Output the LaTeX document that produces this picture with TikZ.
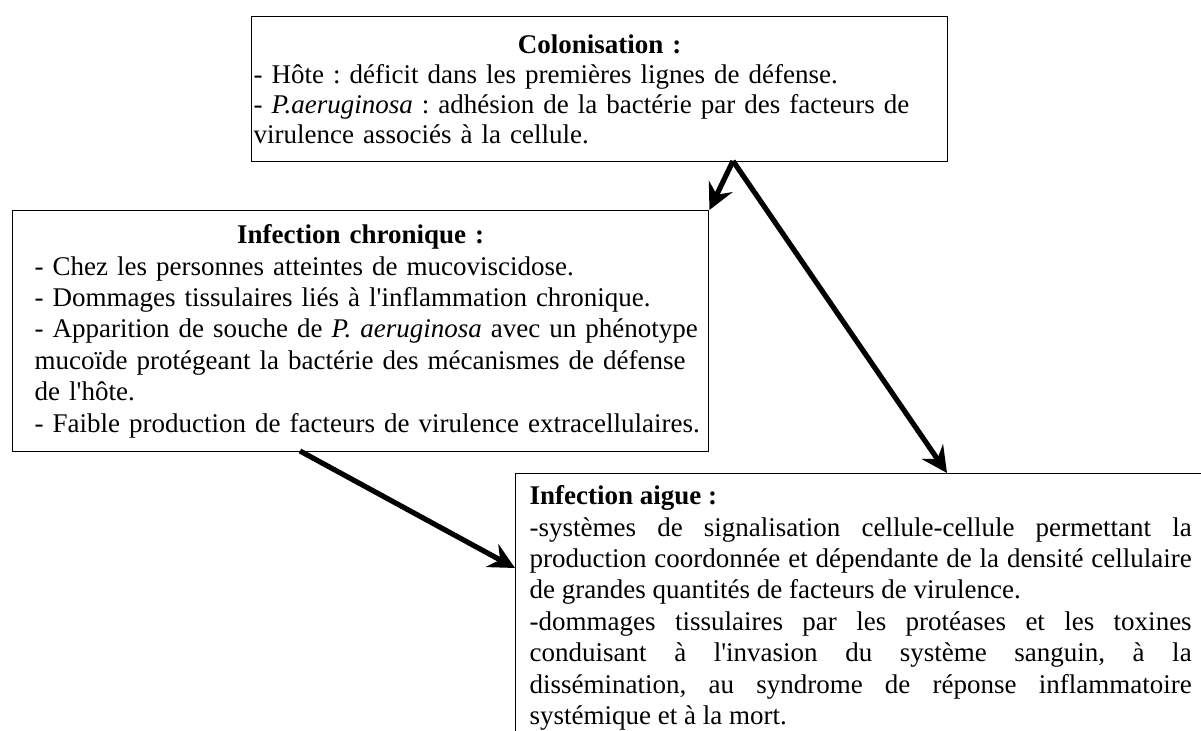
\documentclass[tikz,border=0pt]{standalone}
\usepackage{fontspec}
\setmainfont{Liberation Serif}
\usetikzlibrary{arrows.meta}
\hyphenpenalty=10000
\exhyphenpenalty=10000
\frenchspacing

\begin{document}
\begin{tikzpicture}
        [x=0.5pt,y=-0.5pt,
         box/.style={draw,line width=0.7pt,anchor=north west,inner ysep=0pt,font=\fontsize{13.5pt}{15.7pt}\selectfont},
         flow/.style={line width=2.6pt,-{Stealth[length=13pt,width=13pt,inset=4.5pt]}}]

        \useasboundingbox (0,0) rectangle (1201,731);
        \clip (0,0) rectangle (1201,731);

        \node[box,inner xsep=1pt,text width=346pt,minimum height=72.5pt,align=left,font=\fontsize{13.5pt}{15pt}\selectfont] (colon) at (251,16)
          {\hfill\textbf{Colonisation :}\hfill\null\par
           - Hôte : déficit dans les premières lignes de défense.\\
           - \textit{P.aeruginosa} : adhésion de la bactérie par des facteurs de\\
           virulence associés à la cellule.};
        \node[box,inner xsep=2pt,text width=344pt,minimum height=120.5pt,align=left] (chron) at (12,210)
          {\hfill\textbf{Infection chronique :}\hfill\null\par
           \hspace*{9pt}- Chez les personnes atteintes de mucoviscidose.\\
           \hspace*{9pt}- Dommages tissulaires liés à l\textquotesingle inflammation chronique.\\
           \hspace*{9pt}- Apparition de souche de \textit{P. aeruginosa} avec un phénotype\\
           \hspace*{9pt}mucoïde protégeant la bactérie des mécanismes de défense\\
           \hspace*{9pt}de l\textquotesingle hôte.\\
           \hspace*{9pt}- Faible production de facteurs de virulence extracellulaires.};
        \node[box,inner xsep=7pt,inner ysep=6pt,text width=331pt,align=justify] (aigue) at (515,473)
          {\tolerance=10000
           \textbf{Infection aigue :}\\
           -systèmes de signalisation cellule-cellule permettant la\linebreak
           production coordonnée et dépendante de la densité cellulaire\linebreak
           de grandes quantités de facteurs de virulence.\\
           -dommages tissulaires par les protéases et les toxines\linebreak
           conduisant à l\textquotesingle invasion du système sanguin, à la\linebreak
           dissémination, au syndrome de réponse inflammatoire\linebreak
           systémique et à la mort.};

        \coordinate (colout) at (733,161);
        \coordinate (chronout) at (300,451);
        \coordinate (aiguetop) at (947,473);
        \coordinate (aiguein) at (515,568);

        \draw[flow] (colout) -- (chron.north east);
        \draw[flow] (colout) -- (aiguetop);
        \draw[flow] (chronout) -- (aiguein);
      \end{tikzpicture}
\end{document}
